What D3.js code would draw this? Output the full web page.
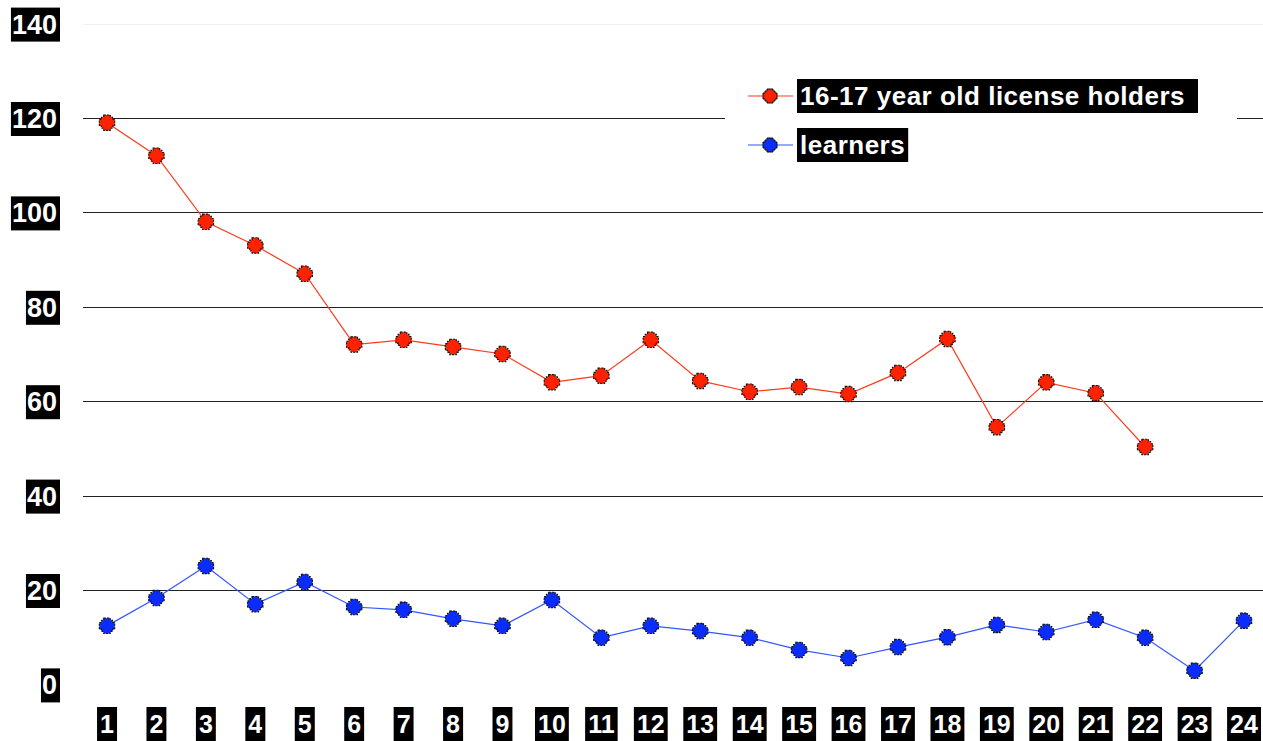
<!DOCTYPE html>
<html>
<head>
<meta charset="utf-8">
<script src="https://cdn.jsdelivr.net/npm/d3@7/dist/d3.min.js"></script>
<style>
  html, body { margin: 0; padding: 0; background: #fff; }
  svg { display: block; font-family: "Liberation Sans", Arial, sans-serif; font-weight: bold; }
</style>
</head>
<body>
<svg id="chart" width="1263" height="741"></svg>
<script>
// Periods along the x axis
const periods = d3.range(1, 25).map(String);
// Y axis tick values
const yTicks = [0, 20, 40, 60, 80, 100, 120, 140];
// Series: 16-17 year old license holders (no data for the last two periods)
const licenseHolders = [119, 112, 98, 93, 87, 72, 73, 71.5, 70, 64, 65.4, 73, 64.3, 62, 63, 61.5, 66, 73.2, 54.5, 64, 61.7, 50.3, null, null];
// Series: learners
const learners = [12.4, 18.3, 25.1, 17, 21.7, 16.4, 15.8, 13.9, 12.4, 17.9, 9.9, 12.4, 11.3, 9.9, 7.3, 5.6, 7.9, 10, 12.6, 11.1, 13.7, 9.9, 2.9, 13.5];
const seriesNames = ["16-17 year old license holders", "learners"];

const svg = d3.select("#chart");

const x = d3.scalePoint().domain(periods).range([107, 1244]);
const y = d3.scaleLinear().domain([0, 140]).range([684.4, 23.6]);

// Horizontal gridlines
svg.append("g").selectAll("line").data(yTicks.filter(t => t > 0)).join("line")
  .attr("x1", 83).attr("x2", 1263)
  .attr("y1", d => Math.round(y(d)) + 0.5).attr("y2", d => Math.round(y(d)) + 0.5)
  .attr("stroke", d => d === 140 ? "#f0f0f0" : "#222")
  .attr("stroke-width", 1);

// Labels drawn as white text on black boxes
function boxedLabel(g, text, size, anchor, padL, padR) {
  const t = g.append("text").text(text)
    .attr("fill", "#fff").attr("font-size", size)
    .attr("text-anchor", anchor).attr("dominant-baseline", "central");
  const bb = t.node().getBBox();
  g.insert("rect", "text")
    .attr("x", bb.x - padL).attr("y", -17)
    .attr("width", bb.width + padL + padR).attr("height", 34)
    .attr("fill", "#000");
  return t;
}

// Y axis labels
const yAxis = svg.append("g");
yTicks.forEach(v => {
  const g = yAxis.append("g").attr("transform", `translate(57,${y(v) + 1})`);
  boxedLabel(g, String(v), 27, "end", 1, 3);
});

// X axis labels
const xAxis = svg.append("g");
periods.forEach(p => {
  const g = xAxis.append("g").attr("transform", `translate(${x(p)},724)`);
  boxedLabel(g, p, 25, "middle", 3, 3);
});

// Stepped round marker
const markerPath = "M-3,-7H3V-5H5V-3H7V3H5V5H3V7H-3V5H-5V3H-7V-3H-5V-5H-3Z";

function drawSeries(values, color, fill) {
  const pts = values.map((v, i) => ({ p: periods[i], v })).filter(d => d.v != null);
  const line = d3.line().x(d => x(d.p)).y(d => y(d.v));
  svg.append("path").datum(pts)
    .attr("d", line).attr("fill", "none")
    .attr("stroke", color).attr("stroke-width", 1.2);
  svg.append("g").selectAll("path").data(pts).join("path")
    .attr("d", markerPath)
    .attr("transform", d => `translate(${x(d.p)},${y(d.v)}) scale(1.1)`)
    .attr("fill", fill).attr("stroke", "#111").attr("stroke-width", 1)
    .attr("stroke-dasharray", "2,1");
}

drawSeries(licenseHolders, "#ff3a1a", "#ff2200");
drawSeries(learners, "#3355ff", "#0a2cff");

// Legend
const legend = svg.append("g");
legend.append("rect").attr("x", 725).attr("y", 72).attr("width", 512).attr("height", 95).attr("fill", "#fff");
const legendItems = [
  { name: seriesNames[0], color: "#ff3a1a", fill: "#ff2200", cy: 96 },
  { name: seriesNames[1], color: "#3355ff", fill: "#0a2cff", cy: 145 }
];
legendItems.forEach((it, i) => {
  const g = legend.append("g");
  g.append("line").attr("x1", 748).attr("x2", 793).attr("y1", it.cy).attr("y2", it.cy)
    .attr("stroke", it.color).attr("stroke-width", 1.2);
  g.append("path").attr("d", markerPath).attr("transform", `translate(770,${it.cy})`)
    .attr("fill", it.fill).attr("stroke", "#111").attr("stroke-width", 1);
  const lg = g.append("g").attr("transform", `translate(800,${it.cy})`);
  const t = lg.append("text").text(it.name)
    .attr("fill", "#fff").attr("font-size", 26).attr("letter-spacing", 0.5)
    .attr("dominant-baseline", "central");
  const bb = t.node().getBBox();
  const w = i === 0 ? 401 : bb.width + 6;
  lg.insert("rect", "text").attr("x", -3).attr("y", -17).attr("width", w).attr("height", 34).attr("fill", "#000");
});
</script>
</body>
</html>
